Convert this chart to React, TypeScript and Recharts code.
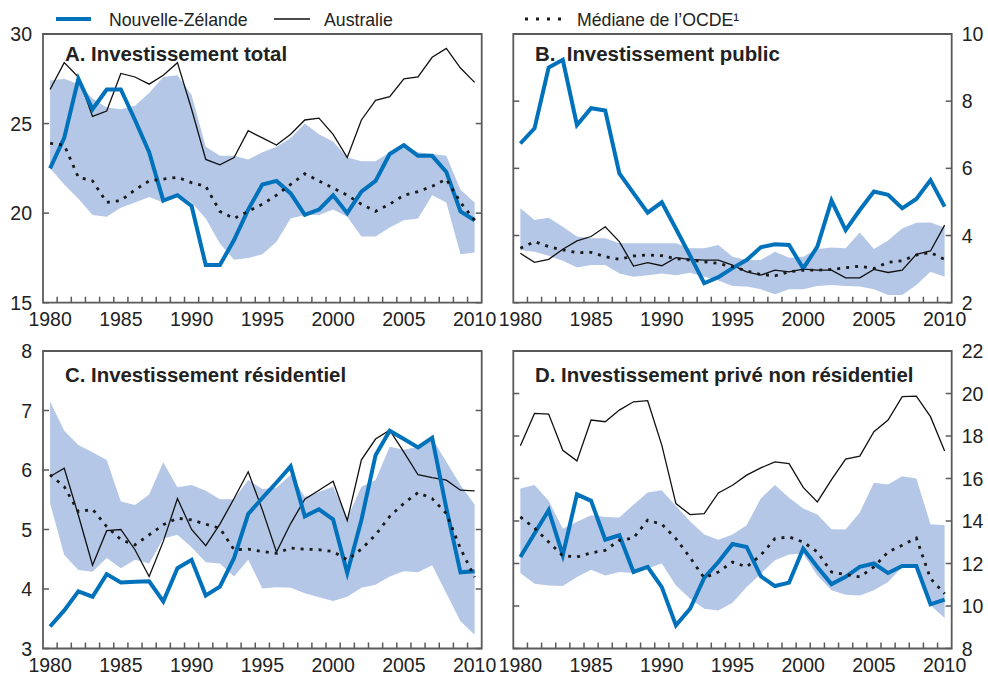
import React from "react";
import { ComposedChart, Area, Line, XAxis, YAxis, ReferenceArea } from "recharts";

const FONT = '"Liberation Sans", Arial, Helvetica, sans-serif';
const BLUE = "#0071BB";
const BAND = "#B4C7E7";
const FRAME = "#5a5a5a";
const INK = "#222";

const years = [
  1980, 1981, 1982, 1983, 1984, 1985, 1986, 1987, 1988, 1989, 1990,
  1991, 1992, 1993, 1994, 1995, 1996, 1997, 1998, 1999, 2000,
  2001, 2002, 2003, 2004, 2005, 2006, 2007, 2008, 2009, 2010,
];
const yearLabels = [1980, 1985, 1990, 1995, 2000, 2005, 2010];

// A. Investissement total
const nzTotal = [22.5, 24.2, 27.5, 25.8, 26.9, 26.9, 25.2, 23.4, 20.7, 21.0, 20.4, 17.1, 17.1, 18.5, 20.2, 21.6, 21.8, 21.1, 19.9, 20.2, 21.0, 20.0, 21.2, 21.8, 23.3, 23.8, 23.2, 23.2, 22.3, 20.1, 19.6];
const ausTotal = [26.9, 28.4, 27.6, 25.4, 25.7, 27.8, 27.6, 27.2, 27.7, 28.4, 25.8, 23.0, 22.7, 23.1, 24.6, 24.2, 23.8, 24.4, 25.2, 25.3, 24.4, 23.1, 25.2, 26.3, 26.5, 27.5, 27.6, 28.7, 29.2, 28.1, 27.3];
const medTotal = [23.9, 23.8, 22.0, 21.8, 20.6, 20.7, 21.3, 21.8, 21.9, 22.0, 21.7, 21.5, 20.1, 19.7, 20.1, 20.5, 21.0, 21.6, 22.2, 21.8, 21.4, 21.0, 20.5, 20.1, 20.5, 21.0, 21.2, 21.5, 21.9, 20.6, 19.6];
const highTotal = [27.4, 27.5, 27.2, 26.4, 25.9, 25.8, 26.0, 26.7, 27.6, 27.7, 26.6, 23.7, 23.2, 23.2, 23.0, 23.4, 23.7, 24.2, 25.0, 24.4, 24.0, 23.1, 22.9, 22.9, 23.4, 23.8, 23.4, 23.3, 23.2, 21.3, 20.6];
const lowTotal = [22.5, 21.6, 20.8, 19.9, 19.8, 20.3, 20.6, 20.9, 20.6, 21.1, 20.6, 19.7, 18.3, 17.4, 17.5, 17.7, 18.4, 19.7, 19.9, 19.9, 20.2, 19.8, 18.7, 18.7, 19.2, 19.6, 19.7, 21.0, 20.6, 17.7, 17.8];

// B. Investissement public
const nzPublic = [6.74, 7.19, 9.0, 9.23, 7.29, 7.79, 7.72, 5.85, 5.26, 4.68, 4.99, 4.2, 3.4, 2.58, 2.76, 3.03, 3.27, 3.65, 3.74, 3.72, 3.02, 3.67, 5.04, 4.16, 4.76, 5.31, 5.21, 4.81, 5.09, 5.65, 4.86];
const ausPublic = [3.47, 3.2, 3.29, 3.59, 3.84, 3.97, 4.26, 3.82, 3.09, 3.19, 3.1, 3.34, 3.29, 3.27, 3.27, 3.12, 2.92, 2.82, 2.97, 2.92, 3.0, 2.97, 2.97, 2.74, 2.74, 2.99, 2.9, 2.97, 3.44, 3.54, 4.31];
const medPublic = [3.62, 3.82, 3.67, 3.57, 3.49, 3.5, 3.37, 3.29, 3.39, 3.42, 3.4, 3.31, 3.27, 3.22, 3.17, 3.07, 2.95, 2.84, 2.8, 2.92, 2.97, 2.97, 2.99, 3.04, 3.09, 3.02, 3.2, 3.25, 3.42, 3.49, 3.29];
const highPublic = [4.81, 4.46, 4.53, 4.26, 3.97, 3.92, 3.92, 3.77, 3.77, 3.77, 3.77, 3.77, 3.62, 3.62, 3.72, 3.37, 3.27, 3.27, 3.52, 3.34, 3.37, 3.6, 3.64, 3.62, 4.09, 3.6, 3.85, 4.21, 4.38, 4.39, 4.24];
const lowPublic = [3.57, 3.52, 3.4, 3.25, 3.05, 3.12, 3.12, 2.87, 2.77, 2.82, 2.87, 2.82, 2.89, 2.77, 2.66, 2.5, 2.48, 2.4, 2.25, 2.4, 2.4, 2.5, 2.53, 2.5, 2.48, 2.4, 2.23, 2.23, 2.53, 2.92, 2.77];

// C. Investissement résidentiel
const nzResid = [3.37, 3.64, 3.96, 3.87, 4.25, 4.11, 4.12, 4.13, 3.79, 4.35, 4.49, 3.89, 4.04, 4.52, 5.26, 5.53, 5.79, 6.06, 5.22, 5.34, 5.17, 4.27, 5.16, 6.25, 6.66, 6.52, 6.38, 6.54, 5.36, 4.28, 4.3];
const ausResid = [5.89, 6.03, 5.24, 4.4, 4.98, 5.0, 4.66, 4.21, 4.8, 5.52, 5.0, 4.73, 5.09, 5.52, 5.97, 5.33, 4.62, 5.1, 5.51, 5.66, 5.81, 5.15, 6.17, 6.52, 6.67, 6.3, 5.92, 5.87, 5.83, 5.66, 5.65];
const medResid = [5.92, 5.72, 5.3, 5.34, 5.05, 4.83, 4.74, 4.91, 5.08, 5.19, 5.16, 5.09, 5.02, 4.66, 4.67, 4.63, 4.6, 4.69, 4.67, 4.66, 4.63, 4.49, 4.67, 4.91, 5.22, 5.44, 5.62, 5.52, 5.27, 4.68, 4.2];
const highResid = [7.15, 6.66, 6.42, 6.3, 6.17, 5.47, 5.41, 5.59, 6.13, 5.71, 5.75, 5.65, 5.51, 5.51, 5.83, 5.68, 5.7, 5.92, 5.55, 5.63, 5.72, 5.19, 5.72, 5.83, 6.39, 6.34, 6.39, 6.53, 6.14, 5.75, 5.42];
const lowResid = [5.44, 4.57, 4.32, 4.29, 4.52, 4.35, 4.49, 4.43, 4.85, 4.91, 4.7, 4.45, 4.43, 4.21, 4.49, 4.01, 4.03, 4.02, 3.93, 3.86, 3.8, 3.87, 4.02, 4.07, 4.21, 4.3, 4.28, 4.4, 3.93, 3.46, 3.23];

// D. Investissement privé non résidentiel
const nzBusiness = [12.31, 13.41, 14.51, 12.39, 15.25, 14.95, 13.12, 13.33, 11.6, 11.84, 10.89, 9.09, 9.87, 11.32, 12.07, 12.92, 12.78, 11.4, 10.94, 11.1, 12.7, 11.84, 11.03, 11.37, 11.84, 12.0, 11.55, 11.88, 11.88, 10.08, 10.3];
const ausBusiness = [17.54, 19.06, 19.03, 17.33, 16.83, 18.75, 18.67, 19.22, 19.61, 19.66, 17.57, 14.82, 14.3, 14.35, 15.32, 15.68, 16.16, 16.5, 16.78, 16.7, 15.58, 14.9, 15.95, 16.91, 17.05, 18.2, 18.75, 19.85, 19.88, 18.91, 17.29];
const medBusiness = [14.19, 13.67, 13.01, 12.36, 12.31, 12.5, 12.62, 13.09, 13.2, 14.04, 13.85, 13.17, 12.28, 11.32, 11.6, 12.07, 11.84, 12.39, 13.17, 13.25, 13.01, 12.54, 11.6, 11.48, 11.37, 11.84, 12.54, 12.86, 13.2, 11.29, 10.58];
const highBusiness = [15.53, 15.69, 14.95, 13.64, 13.96, 14.27, 14.19, 14.16, 14.77, 15.34, 15.45, 14.71, 13.99, 13.36, 13.12, 13.36, 13.8, 15.06, 15.69, 15.09, 14.59, 14.31, 13.61, 13.6, 14.4, 15.8, 15.72, 16.11, 16.0, 13.85, 13.8];
const lowBusiness = [11.55, 11.05, 10.97, 10.94, 11.37, 11.71, 11.44, 11.6, 11.55, 11.76, 12.0, 10.97, 10.34, 9.87, 9.79, 10.15, 10.89, 11.52, 12.15, 12.42, 12.46, 11.44, 10.74, 10.53, 10.5, 10.74, 11.13, 11.84, 11.84, 10.03, 9.43];

const ticksTotal = [15, 20, 25, 30];
const ticksPublic = [2, 4, 6, 8, 10];
const ticksResid = [3, 4, 5, 6, 7, 8];
const ticksBusiness = [8, 10, 12, 14, 16, 18, 20, 22];

// year labels plus small marks between years
const xTicks = [...yearLabels, ...years.slice(0, -1).map((y) => y + 0.5)].sort((a, b) => a - b);

function rowsOf(nz: number[], aus: number[], med: number[], low: number[], high: number[]) {
  return years.map((year, i) => ({ year, nz: nz[i], aus: aus[i], med: med[i], band: [low[i], high[i]] }));
}

const XTick = (props: any) => {
  const { x, y, payload } = props;
  const v = payload.value;
  if (Number.isInteger(v)) {
    return (
      <text x={x} y={y + 23.5} textAnchor="middle" fontSize={19.5} fill={INK} fontFamily={FONT}>
        {v}
      </text>
    );
  }
  return <line x1={x} x2={x} y1={y} y2={y - 6} stroke={FRAME} strokeWidth={1.5} />;
};

const yTick = (side: "left" | "right", showLabel: boolean) => (props: any) => {
  const { x, y, payload } = props;
  const dir = side === "left" ? 1 : -1;
  return (
    <g>
      <line x1={x} x2={x + dir * 6} y1={y} y2={y} stroke={FRAME} strokeWidth={1.5} />
      {showLabel && (
        <text
          x={side === "left" ? x - 11 : x + 10}
          y={y + 7}
          textAnchor={side === "left" ? "end" : "start"}
          fontSize={19.5}
          fill={INK}
          fontFamily={FONT}
        >
          {payload.value}
        </text>
      )}
    </g>
  );
};

type PanelProps = {
  rows: any[];
  left: number;
  top: number;
  width: number;
  height: number;
  marginTop: number;
  leftW: number;
  rightW: number;
  bottomH: number;
  domain: [number, number];
  ticks: number[];
  labelSide: "left" | "right";
};

function Panel(p: PanelProps) {
  return (
    <div style={{ position: "absolute", left: p.left, top: p.top, width: p.width, height: p.height }}>
      <ComposedChart
        width={p.width}
        height={p.height}
        data={p.rows}
        margin={{ top: p.marginTop, right: 0, bottom: 0, left: 0 }}
      >
        <XAxis
          xAxisId="x"
          dataKey="year"
          type="number"
          domain={[1979.5, 2010.5]}
          allowDataOverflow
          ticks={xTicks}
          interval={0}
          tickLine={false}
          axisLine={false}
          tickSize={0}
          tickMargin={0}
          height={p.bottomH}
          tick={XTick}
        />
        <YAxis
          yAxisId="l"
          orientation="left"
          type="number"
          width={p.leftW}
          domain={p.domain}
          allowDataOverflow
          ticks={p.ticks}
          interval={0}
          tickLine={false}
          axisLine={false}
          tickSize={0}
          tickMargin={0}
          tick={yTick("left", p.labelSide === "left")}
        />
        <YAxis
          yAxisId="r"
          orientation="right"
          type="number"
          width={p.rightW}
          domain={p.domain}
          allowDataOverflow
          ticks={p.ticks}
          interval={0}
          tickLine={false}
          axisLine={false}
          tickSize={0}
          tickMargin={0}
          tick={yTick("right", p.labelSide === "right")}
        />
        <Area
          xAxisId="x"
          yAxisId="l"
          type="linear"
          dataKey="band"
          fill={BAND}
          fillOpacity={1}
          stroke="none"
          isAnimationActive={false}
        />
        <Line
          xAxisId="x"
          yAxisId="l"
          type="linear"
          dataKey="aus"
          stroke="#111"
          strokeWidth={1.3}
          dot={false}
          isAnimationActive={false}
        />
        <Line
          xAxisId="x"
          yAxisId="l"
          type="linear"
          dataKey="nz"
          stroke={BLUE}
          strokeWidth={4}
          dot={false}
          isAnimationActive={false}
        />
        <Line
          xAxisId="x"
          yAxisId="l"
          type="linear"
          dataKey="med"
          stroke="#1a1a1a"
          strokeWidth={2.8}
          strokeDasharray="3 6"
          dot={false}
          isAnimationActive={false}
        />
        <ReferenceArea
          xAxisId="x"
          yAxisId="l"
          x1={1979.5}
          x2={2010.5}
          y1={p.domain[0]}
          y2={p.domain[1]}
          fill="none"
          stroke={FRAME}
          strokeWidth={1.8}
          ifOverflow="visible"
        />
      </ComposedChart>
    </div>
  );
}

function Overlay() {
  const title = { fontFamily: FONT, fontSize: 20.4, fontWeight: 700, fill: INK } as const;
  const legend = { fontFamily: FONT, fontSize: 17.7, fill: INK } as const;
  return (
    <svg
      width={988}
      height={675}
      style={{ position: "absolute", left: 0, top: 0, pointerEvents: "none" }}
    >
      <line x1={56} x2={91} y1={19} y2={19} stroke={BLUE} strokeWidth={4} />
      <text x={109} y={26} {...legend}>Nouvelle-Zélande</text>
      <line x1={274} x2={310} y1={19} y2={19} stroke="#111" strokeWidth={1.3} />
      <text x={324} y={26} {...legend}>Australie</text>
      <line x1={525} x2={563} y1={19} y2={19} stroke="#1a1a1a" strokeWidth={2.8} strokeDasharray="3 8" />
      <text x={577} y={26} {...legend}>Médiane de l’OCDE¹</text>

      <text x={65} y={61} {...title}>A. Investissement total</text>
      <text x={535} y={61} {...title}>B.{"\u00a0 "}Investissement public</text>
      <text x={65} y={382} {...title}>C. Investissement résidentiel</text>
      <text x={535} y={382} {...title}>D. Investissement privé non résidentiel</text>
    </svg>
  );
}

export default function App() {
  return (
    <div style={{ position: "absolute", left: 0, top: 0, width: 988, height: 675, background: "#fff", fontFamily: FONT }}>
      <Panel
        rows={rowsOf(nzTotal, ausTotal, medTotal, lowTotal, highTotal)}
        left={0} top={0} width={500} height={340} marginTop={34}
        leftW={43} rightW={18.3} bottomH={37.3}
        domain={[15, 30]} ticks={ticksTotal} labelSide="left"
      />
      <Panel
        rows={rowsOf(nzPublic, ausPublic, medPublic, lowPublic, highPublic)}
        left={490} top={0} width={498} height={340} marginTop={34}
        leftW={23.3} rightW={36.3} bottomH={37.3}
        domain={[2, 10]} ticks={ticksPublic} labelSide="right"
      />
      <Panel
        rows={rowsOf(nzResid, ausResid, medResid, lowResid, highResid)}
        left={0} top={320} width={500} height={355} marginTop={31}
        leftW={43} rightW={18.3} bottomH={26.5}
        domain={[3, 8]} ticks={ticksResid} labelSide="left"
      />
      <Panel
        rows={rowsOf(nzBusiness, ausBusiness, medBusiness, lowBusiness, highBusiness)}
        left={490} top={320} width={498} height={355} marginTop={31}
        leftW={23.3} rightW={36.3} bottomH={26.5}
        domain={[8, 22]} ticks={ticksBusiness} labelSide="right"
      />
      <Overlay />
    </div>
  );
}
